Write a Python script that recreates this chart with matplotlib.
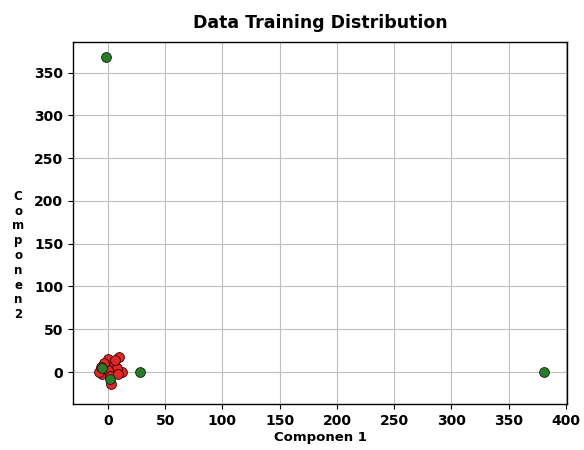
import matplotlib
matplotlib.use("Agg")
import matplotlib.pyplot as plt

# class 0 (red) points
red_x = [0, 5, 10, 12, -5, 3, -8, 8, 0, -3, 6, 2, 9, -6]
red_y = [15, 8, 18, 0, -2, -14, 0, 5, 2, 10, 14, -5, -2, 6]
# class 1 (green) points
green_x = [-2, 381, 28, -5, 2]
green_y = [368, 0, 0, 5, -8]

fig = plt.figure(figsize=(5.84, 4.5), dpi=100)
ax = fig.add_axes([0.125, 0.102, 0.846, 0.805])

ax.scatter(red_x, red_y, s=50, c='#e02828', edgecolors='#300000', linewidths=0.6, zorder=3)
ax.scatter(green_x, green_y, s=50, c='#2a7a2a', edgecolors='#0a250a', linewidths=0.6, zorder=3)

ax.set_xlim(-30.5, 401)
ax.set_ylim(-37.5, 386)
ax.set_xticks(range(0, 401, 50))
ax.set_yticks(range(0, 351, 50))
ax.grid(True, color='#bdbdbd', linewidth=0.8)
ax.set_axisbelow(True)
for lab in ax.get_xticklabels() + ax.get_yticklabels():
    lab.set_fontweight('bold')
    lab.set_fontsize(10)

ax.set_title('Data Training Distribution', fontsize=12.5, fontweight='bold', pad=10)
ax.set_xlabel('Componen 1', fontsize=9.5, fontweight='bold', labelpad=2)
ax.set_ylabel('\n'.join('Componen') + '\n2', fontsize=8.5, fontweight='bold',
              rotation=0, va='center', ha='center', linespacing=1.18)
ax.yaxis.set_label_coords(-0.111, 0.41)
for sp in ax.spines.values():
    sp.set_linewidth(1.0)

fig.savefig('out.png', dpi=100)
